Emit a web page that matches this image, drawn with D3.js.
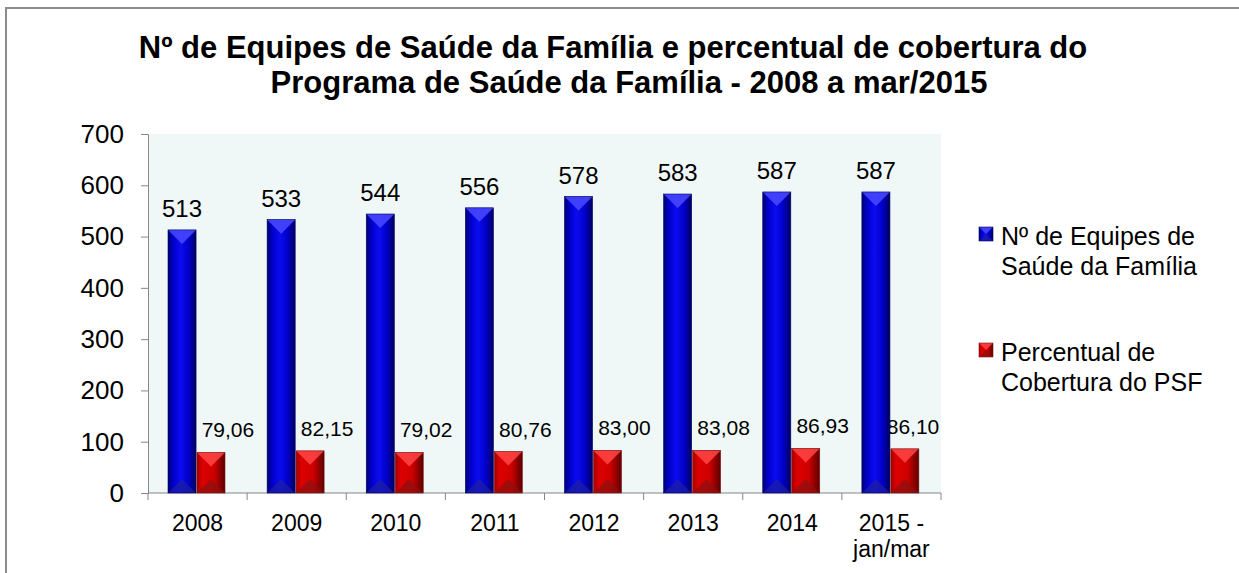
<!DOCTYPE html>
<html>
<head>
<meta charset="utf-8">
<script src="https://cdn.jsdelivr.net/npm/d3@7"></script>
<style>
  body { margin: 0; background: #ffffff; }
  svg { display: block; font-family: "Liberation Sans", Arial, sans-serif; }
  .axis path, .axis line { stroke: #868686; }
</style>
</head>
<body>
<svg id="canvas" width="1239" height="573"></svg>
<script>
  // data
  const categories = ["2008", "2009", "2010", "2011", "2012", "2013", "2014", "2015 -\njan/mar"];
  const equipes = [513, 533, 544, 556, 578, 583, 587, 587];
  const cobertura = [79.06, 82.15, 79.02, 80.76, 83.00, 83.08, 86.93, 86.10];
  const series = ["Nº de Equipes de\nSaúde da Família", "Percentual de\nCobertura do PSF"];
  const yTicks = [0, 100, 200, 300, 400, 500, 600, 700];
  const titleLines = ["Nº de Equipes de Saúde da Família e percentual de cobertura do",
                      "Programa de Saúde da Família - 2008 a mar/2015"];

  const svg = d3.select("svg");
  const plot = { left: 148, right: 941, top: 134, bottom: 493 };

  // outer chart border
  svg.append("rect")
      .attr("x", 6).attr("y", 8).attr("width", 1260).attr("height", 600)
      .attr("fill", "none").attr("stroke", "#8c8c8c").attr("stroke-width", 2);

  // gradients
  const defs = svg.append("defs");
  function gradient(id, stops) {
    const g = defs.append("linearGradient").attr("id", id)
        .attr("x1", "0%").attr("x2", "100%").attr("y1", "0%").attr("y2", "0%");
    stops.forEach(s => g.append("stop").attr("offset", s[0]).attr("stop-color", s[1]));
  }
  gradient("gBlue", [["0%", "#000070"], ["18%", "#0000c8"], ["45%", "#0b0bf2"], ["75%", "#0000c4"], ["100%", "#00005a"]]);
  gradient("gRed", [["0%", "#a40000"], ["20%", "#dd0000"], ["60%", "#cf0000"], ["100%", "#5c0000"]]);
  const bevel = [
    { fill: "url(#gBlue)", top: "#4a4aff", bottom: "#2020a0" },
    { fill: "url(#gRed)", top: "#ff4545", bottom: "#8a1010" }
  ];

  // title
  svg.append("text")
      .attr("text-anchor", "middle")
      .attr("font-weight", "bold")
      .attr("font-size", 31)
      .selectAll("tspan")
      .data(titleLines)
      .join("tspan")
      .attr("x", (d, i) => i === 0 ? 613 : 629)
      .attr("y", (d, i) => 58 + i * 35)
      .text(d => d);

  // scales
  const x0 = d3.scaleBand().domain(categories).range([plot.left, plot.right]).padding(0);
  const x1 = d3.scaleBand().domain([0, 1]).range([20, 77]).paddingInner(0.03);
  const y = d3.scaleLinear().domain([0, 700]).range([plot.bottom, plot.top]);

  svg.append("rect")
      .attr("x", plot.left).attr("y", plot.top)
      .attr("width", plot.right - plot.left).attr("height", plot.bottom - plot.top)
      .attr("fill", "#eff8f7");

  // y axis
  const yAxis = svg.append("g").attr("class", "axis")
      .attr("transform", `translate(${plot.left},0)`)
      .call(d3.axisLeft(y).tickValues(yTicks).tickSize(7).tickSizeOuter(7).tickPadding(17));
  yAxis.selectAll("text").attr("font-size", 26).attr("fill", "#000").attr("font-family", null);

  // x axis
  const boundaries = d3.range(categories.length + 1).map(i => plot.left + i * x0.step());
  const xg = svg.append("g").attr("class", "axis");
  xg.append("line")
      .attr("x1", plot.left).attr("x2", plot.right).attr("y1", plot.bottom).attr("y2", plot.bottom)
      .attr("stroke", "#868686");
  xg.selectAll("line.tick").data(boundaries).join("line").attr("class", "tick")
      .attr("x1", d => d).attr("x2", d => d)
      .attr("y1", plot.bottom).attr("y2", plot.bottom + 7)
      .attr("stroke", "#868686");
  // one text per line so the two lines of the last label stay apart
  const xLines = categories.flatMap(c => c.split("\n").map((t, i) => ({ t, c, i })));
  xg.selectAll("text").data(xLines).join("text")
      .attr("text-anchor", "middle")
      .attr("font-size", 23)
      .attr("x", d => x0(d.c) + x0.bandwidth() / 2)
      .attr("y", d => 531 + d.i * 26)
      .text(d => d.t);

  const rows = categories.map((c, i) => ({ c, v: [equipes[i], cobertura[i]] }));
  const fmt = v => d3.format(".2f")(v).replace(".", ",");

  // red labels (behind the bars, like the original)
  svg.selectAll("text.redlab").data(rows).join("text").attr("class", "redlab")
      .attr("text-anchor", "middle")
      .attr("font-size", 21)
      .attr("x", d => Math.min(x0(d.c) + x1(1) + x1.bandwidth() / 2 + 17, plot.right - 28))
      .attr("y", d => y(d.v[1]) - 15)
      .text(d => fmt(d.v[1]));

  // bars with bevel
  function barPaths(g, x, w, top, bot, k) {
    const b = Math.min(w / 2, 14);
    g.append("rect").attr("x", x).attr("y", top).attr("width", w).attr("height", bot - top)
        .attr("fill", bevel[k].fill);
    g.append("path")
        .attr("d", `M${x},${top}L${x + w},${top}L${x + w - b},${top + b}L${x + b},${top + b}Z`)
        .attr("fill", bevel[k].top).attr("opacity", 0.85);
    g.append("path")
        .attr("d", `M${x},${bot}L${x + w},${bot}L${x + w - b},${bot - b}L${x + b},${bot - b}Z`)
        .attr("fill", bevel[k].bottom).attr("opacity", 0.7);
    g.append("rect").attr("x", x).attr("y", top).attr("width", w).attr("height", bot - top)
        .attr("fill", "none").attr("stroke", k === 0 ? "#000066" : "#7a1a1a").attr("stroke-width", 0.6);
  }
  rows.forEach(d => {
    const g = svg.append("g");
    d.v.forEach((v, k) => {
      barPaths(g, x0(d.c) + x1(k), x1.bandwidth(), y(v), y(0), k);
    });
  });

  // blue labels
  svg.selectAll("text.bluelab").data(rows).join("text").attr("class", "bluelab")
      .attr("text-anchor", "middle")
      .attr("font-size", 24)
      .attr("x", d => x0(d.c) + x1(0) + x1.bandwidth() / 2)
      .attr("y", d => y(d.v[0]) - 13)
      .text(d => d.v[0]);

  // legend
  const legend = svg.append("g");
  const legY = [227, 343];
  series.forEach((s, k) => {
    const lx = 979, ly = legY[k], sz = 14;
    barPaths(legend, lx, sz, ly, ly + sz, k);
    legend.append("text")
        .attr("font-size", 25)
        .selectAll("tspan")
        .data(s.split("\n"))
        .join("tspan")
        .attr("x", 1001)
        .attr("y", (d, i) => ly + 18 + i * 30)
        .text(d => d);
  });
</script>
</body>
</html>
